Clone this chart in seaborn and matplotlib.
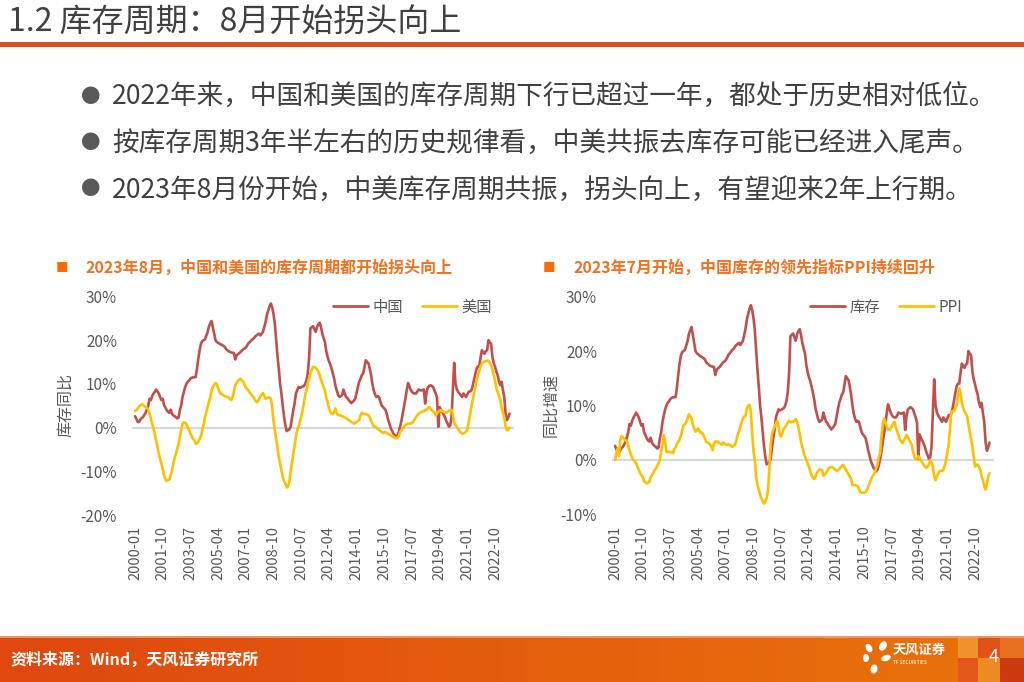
import numpy as np
import pandas as pd
import matplotlib
matplotlib.use("Agg")
import matplotlib.pyplot as plt
import matplotlib.colors as mcolors
from matplotlib.patches import Rectangle, Ellipse
from matplotlib.lines import Line2D
from matplotlib.ticker import FuncFormatter, FixedLocator
import seaborn as sns

# ---------------- data ----------------
months = pd.date_range("2000-01-01", periods=285, freq="MS")

china_inv = [
    2.6, 2.0, 1.3, 1.3, 1.8, 2.2, 2.4, 2.9, 3.4, 4.2,
    5.1, 6.6, 6.3, 7.2, 7.8, 8.2, 8.7, 8.3, 7.8, 7.0,
    6.3, 6.6, 5.1, 4.6, 4.0, 3.6, 3.4, 4.1, 3.2, 2.8,
    2.6, 2.4, 2.1, 2.3, 4.0, 5.1, 7.0, 8.2, 9.3, 10.0,
    10.5, 10.8, 11.2, 11.4, 11.5, 11.5, 11.6, 13.5, 15.8, 17.8,
    19.2, 19.8, 20.0, 20.2, 21.0, 21.8, 23.1, 23.8, 24.4, 23.0,
    21.5, 20.0, 19.6, 19.4, 19.2, 19.0, 18.9, 18.7, 18.5, 18.0,
    17.7, 17.5, 17.3, 17.2, 17.1, 17.1, 15.6, 16.5, 16.8, 17.0,
    17.3, 17.6, 17.9, 18.1, 18.3, 18.8, 19.3, 19.6, 19.9, 20.2,
    20.4, 20.8, 21.1, 21.3, 21.5, 21.1, 21.5, 21.9, 23.0, 24.2,
    25.8, 26.8, 27.8, 28.4, 27.5, 26.0, 23.8, 20.0, 16.5, 13.5,
    10.0, 7.8, 5.0, 2.5, 0.5, -0.8, -0.6, -0.4, 0.2, 2.2,
    4.0, 5.5, 7.8, 8.6, 9.3, 9.1, 9.2, 9.4, 9.5, 10.0,
    10.8, 12.5, 16.0, 22.7, 23.0, 23.2, 22.5, 21.9, 23.0, 23.6,
    24.0, 23.0, 21.5, 20.5, 19.6, 17.5, 16.2, 15.2, 14.5, 13.5,
    12.4, 11.2, 9.5, 8.5, 7.5, 7.0, 7.2, 7.4, 8.7, 7.8,
    7.0, 6.8, 6.3, 6.0, 5.6, 5.9, 6.2, 6.6, 8.0, 9.3,
    10.5, 11.2, 12.0, 12.4, 13.8, 15.4, 15.0, 14.7, 13.5, 12.0,
    10.0, 8.5, 7.6, 7.0, 7.2, 7.0, 6.0, 5.1, 4.7, 4.4,
    4.0, 3.0, 1.7, 0.8, -0.2, -0.8, -1.4, -1.8, -2.1, -1.8,
    -1.0, 0.2, 1.5, 3.2, 5.0, 6.6, 8.5, 10.2, 9.5, 8.7,
    8.2, 7.9, 7.8, 7.8, 8.2, 8.7, 8.6, 8.5, 8.6, 8.7,
    5.5, 8.0, 9.2, 9.5, 9.7, 9.5, 9.3, 8.5, 7.8, 6.8,
    0.2, 4.7, 4.0, 3.6, 3.0, 2.4, 1.5, 0.9, 0.2, 0.5,
    2.4, 8.5, 14.8, 10.1, 8.8, 8.2, 7.8, 7.4, 7.0, 7.8,
    7.4, 7.0, 7.6, 8.2, 8.3, 8.5, 9.5, 10.8, 12.0, 13.5,
    14.0, 14.0, 16.0, 17.7, 17.2, 16.9, 17.5, 17.7, 20.0, 19.5,
    19.2, 16.2, 14.8, 13.9, 12.8, 12.0, 10.5, 9.7, 10.5, 8.5,
    7.0, 3.2, 1.7, 2.3, 3.2,
]

us_inv = [
    3.8, 4.0, 4.4, 4.8, 5.1, 5.3, 5.2, 4.9, 4.7, 4.6,
    4.0, 3.2, 2.0, 0.9, -0.2, -1.4, -3.0, -4.4, -6.0, -7.1,
    -8.3, -9.4, -11.0, -11.8, -12.2, -12.0, -11.9, -10.9, -10.0, -8.2,
    -7.0, -6.0, -4.8, -3.7, -2.0, -0.5, 0.9, 1.2, 1.1, 0.8,
    0.0, -0.6, -1.4, -2.0, -2.6, -2.9, -3.7, -3.6, -3.3, -2.6,
    -2.0, -0.5, 0.6, 2.4, 3.5, 4.7, 6.0, 7.0, 8.5, 9.3,
    9.8, 10.2, 9.9, 9.0, 8.2, 7.8, 7.6, 7.4, 7.2, 7.1,
    7.0, 6.9, 6.5, 6.3, 7.0, 8.2, 9.7, 10.2, 10.7, 11.0,
    11.2, 10.8, 10.5, 9.8, 9.2, 8.8, 8.5, 8.0, 7.6, 7.2,
    6.9, 6.3, 5.9, 5.9, 6.4, 7.2, 7.6, 7.9, 7.3, 6.6,
    6.8, 6.9, 6.9, 6.6, 4.5, 1.5, -0.6, -2.5, -4.5, -6.7,
    -8.2, -9.8, -11.3, -12.2, -12.8, -13.7, -13.5, -12.4, -10.0, -8.0,
    -6.0, -4.0, -2.1, -0.5, 0.2, 1.4, 2.4, 4.0, 5.5, 7.5,
    8.5, 10.1, 11.3, 12.4, 13.2, 13.9, 13.8, 13.7, 13.3, 12.8,
    12.0, 11.0, 10.1, 9.3, 8.5, 6.8, 5.9, 4.5, 3.6, 3.2,
    3.1, 3.6, 4.4, 3.1, 3.0, 2.8, 2.8, 2.6, 2.5, 2.4,
    2.1, 2.0, 1.7, 1.5, 1.3, 1.1, 0.9, 1.1, 1.3, 1.5,
    1.7, 2.8, 3.4, 3.2, 3.1, 3.1, 3.0, 2.8, 2.4, 1.5,
    0.9, 0.3, 0.2, 0.0, -0.3, -0.5, -0.8, -1.0, -1.2, -1.1,
    -1.0, -1.3, -1.5, -1.6, -1.8, -2.0, -2.1, -2.3, -2.5, -2.3,
    -2.0, -1.0, -0.6, -0.2, 0.2, 0.5, 0.8, 0.9, 0.9, 0.9,
    1.1, 1.3, 1.8, 2.4, 2.8, 3.2, 3.4, 3.6, 3.7, 3.8,
    4.0, 4.1, 4.4, 4.7, 4.4, 4.0, 3.7, 3.4, 2.8, 3.2,
    3.6, 3.9, 4.0, 3.8, 3.6, 3.5, 3.4, 3.6, 3.8, 4.0,
    4.1, 3.1, 1.3, 0.6, 0.2, -0.3, -0.8, -1.1, -1.4, -1.3,
    -1.2, -0.9, -0.6, 1.3, 3.0, 4.7, 6.2, 7.8, 9.3, 10.8,
    12.0, 13.1, 14.0, 14.7, 15.0, 15.1, 15.2, 15.3, 15.3, 14.8,
    14.2, 13.3, 12.0, 10.8, 9.0, 8.2, 7.2, 6.3, 4.4, 3.4,
    2.4, 0.2, -0.6, -0.5, 0.0,
]

ppi = [
    0.0, 1.2, 2.1, 0.7, 3.7, 4.4, 4.1, 3.8, 3.6, 3.4,
    2.6, 1.8, 1.0, 0.3, 0.0, -0.3, -0.6, -1.2, -1.8, -2.4,
    -2.8, -3.1, -3.9, -4.1, -4.3, -4.2, -4.0, -3.1, -2.8, -2.4,
    -1.8, -1.6, -1.1, -0.6, 0.0, 1.5, 2.8, 4.6, 3.4, 1.5,
    1.5, 1.5, 1.4, 1.5, 1.3, 2.0, 2.4, 3.0, 3.4, 3.8,
    4.5, 5.5, 6.4, 6.6, 6.9, 7.6, 8.4, 8.0, 7.6, 6.5,
    5.8, 5.2, 5.4, 5.8, 5.3, 5.0, 5.0, 4.6, 4.0, 3.4,
    3.2, 3.1, 2.9, 2.5, 1.8, 3.0, 3.4, 3.4, 3.4, 3.1,
    3.0, 2.8, 3.2, 3.0, 2.8, 2.8, 2.9, 2.7, 2.6, 2.4,
    2.6, 2.8, 3.6, 4.6, 5.3, 6.1, 6.9, 7.6, 8.0, 8.1,
    9.5, 10.0, 10.1, 8.9, 4.9, 1.5, 0.0, -3.1, -4.5, -5.5,
    -6.3, -7.0, -7.6, -8.0, -7.5, -7.0, -5.5, -1.8, 2.8, 4.9,
    5.5, 6.1, 6.8, 7.2, 6.1, 4.6, 4.3, 5.0, 5.8, 6.1,
    6.4, 6.9, 7.2, 6.9, 7.0, 7.0, 7.2, 7.5, 7.0, 6.0,
    4.9, 3.4, 2.4, 1.4, 0.6, 0.1, -0.6, -1.2, -2.0, -2.8,
    -3.2, -3.5, -3.0, -2.4, -2.0, -1.7, -1.8, -1.8, -2.9, -2.7,
    -2.4, -2.0, -1.5, -1.4, -1.3, -1.4, -1.5, -1.8, -2.0, -1.9,
    -1.7, -1.4, -1.1, -0.9, -1.3, -1.8, -2.2, -2.6, -3.0, -3.4,
    -4.6, -4.6, -4.6, -4.7, -4.8, -5.4, -5.9, -6.0, -6.0, -6.0,
    -5.9, -5.5, -4.9, -4.3, -3.6, -3.1, -2.7, -2.3, -1.5, -0.9,
    0.5, 1.2, 4.3, 6.7, 7.6, 7.0, 6.1, 5.6, 5.5, 5.8,
    6.2, 6.8, 7.0, 6.0, 5.2, 4.5, 3.7, 3.4, 3.1, 3.6,
    4.0, 4.6, 4.2, 3.7, 3.2, 2.8, 1.5, 0.6, 0.1, 0.3,
    0.7, 0.3, 0.0, -0.5, -0.9, -1.2, -1.5, -1.2, -0.9, 0.0,
    -0.4, -1.2, -3.0, -3.7, -3.0, -2.5, -2.1, -2.0, -2.0, -1.8,
    -1.0, 0.0, 1.5, 2.8, 5.5, 8.9, 9.0, 8.9, 9.5, 10.1,
    11.5, 13.1, 12.2, 10.5, 9.5, 8.9, 8.5, 8.0, 6.5, 5.2,
    3.8, 2.4, 0.5, -1.2, -0.9, -0.8, -1.3, -1.8, -3.0, -3.7,
    -4.9, -5.4, -4.4, -3.0, -2.4,
]

tick_labels = ["2000-01", "2001-10", "2003-07", "2005-04", "2007-01", "2008-10",
               "2010-07", "2012-04", "2014-01", "2015-10", "2017-07", "2019-04",
               "2021-01", "2022-10"]
left_series = ["中国", "美国"]
right_series = ["库存", "PPI"]
left_yticks = [-20, -10, 0, 10, 20, 30]
right_yticks = [-10, 0, 10, 20, 30]

title = "1.2 库存周期：8月开始拐头向上"
bullets = [
    "2022年来，中国和美国的库存周期下行已超过一年，都处于历史相对低位。",
    "按库存周期3年半左右的历史规律看，中美共振去库存可能已经进入尾声。",
    "2023年8月份开始，中美库存周期共振，拐头向上，有望迎来2年上行期。",
]
left_sub = "2023年8月，中国和美国的库存周期都开始拐头向上"
right_sub = "2023年7月开始，中国库存的领先指标PPI持续回升"
source = "资料来源：Wind，天风证券研究所"

# ---------------- style ----------------
sns.set_theme(style="white")
plt.rcParams['font.family'] = ['Noto Sans CJK SC', 'DejaVu Sans']
plt.rcParams['axes.unicode_minus'] = False

RED = "#C0504D"
YEL = "#FFC000"
GRAY_TXT = "#595959"
ORANGE_TXT = "#F4701E"

W, H = 1024, 682
fig = plt.figure(figsize=(W / 100, H / 100), dpi=100)
fig.patch.set_facecolor("white")


def fx(px):
    return px / W


def fy(py):
    return 1 - py / H


# title + rule
fig.text(fx(8), fy(22), title, fontsize=23, color="#404040", va="center", ha="left")
fig.add_artist(Rectangle((0, fy(46.5)), 1, 5 / H, transform=fig.transFigure,
                         facecolor="#D9511C", edgecolor="none"))

# bullets
for yb, txt in zip([97, 143, 190], bullets):
    fig.text(fx(91), fy(yb), "●", fontsize=14, color=GRAY_TXT, va="center", ha="center")
    fig.text(fx(112), fy(yb), txt, fontsize=19.2, color="#404040", va="center", ha="left")

# subtitles
for sqx, tx, txt in [(62, 86, left_sub), (549, 574, right_sub)]:
    fig.text(fx(sqx), fy(268), "■", fontsize=9, color="#FF6A00", va="center", ha="center")
    fig.text(fx(tx), fy(268), txt, fontsize=11.5, color=ORANGE_TXT, weight="bold",
             va="center", ha="left")

idx = np.arange(len(months))
tick_pos = list(months.get_indexer(pd.to_datetime(tick_labels)))

df_left = pd.DataFrame({
    "idx": np.concatenate([idx, idx]),
    "value": np.concatenate([china_inv, us_inv]),
    "series": [left_series[0]] * len(idx) + [left_series[1]] * len(idx),
})
df_right = pd.DataFrame({
    "idx": np.concatenate([idx, idx]),
    "value": np.concatenate([china_inv, ppi]),
    "series": [right_series[0]] * len(idx) + [right_series[1]] * len(idx),
})


def style_axes(ax, df, names, yticks, ylim, ylabel, ylabel_x, legend_right):
    ax.axhline(0, color="#D9D9D9", lw=1.5, zorder=0)
    sns.lineplot(data=df, x="idx", y="value", hue="series", hue_order=names,
                 palette={names[0]: RED, names[1]: YEL}, linewidth=1.9,
                 ax=ax, legend=False, zorder=3)
    ax.set_xlim(-2, 287)
    ax.set_ylim(*ylim)
    ax.xaxis.set_major_locator(FixedLocator(tick_pos))
    ax.set_xticklabels(tick_labels)
    ax.yaxis.set_major_locator(FixedLocator(yticks))
    ax.yaxis.set_major_formatter(FuncFormatter(lambda v, p: f"{v:.0f}%"))
    ax.tick_params(axis="x", labelrotation=90, length=0, pad=8, labelsize=10.5,
                   colors=GRAY_TXT)
    ax.tick_params(axis="y", length=0, pad=11, labelsize=11, colors=GRAY_TXT)
    ax.set_xlabel("")
    ax.set_ylabel("")
    for s in ax.spines.values():
        s.set_visible(False)
    ax.grid(False)
    ax.set_facecolor("none")
    fig.text(fx(ylabel_x), fy(405), ylabel, rotation=90, fontsize=11.5,
             color=GRAY_TXT, va="center", ha="center")
    handles = [Line2D([0], [0], color=RED, lw=2), Line2D([0], [0], color=YEL, lw=2)]
    ax.legend(handles, names, loc="center right", ncol=2, frameon=False,
              bbox_to_anchor=(fx(legend_right), fy(307)), bbox_transform=fig.transFigure,
              fontsize=11, labelcolor=GRAY_TXT, handlelength=2.3, handletextpad=0.3,
              columnspacing=1.2, borderpad=0, borderaxespad=0)


axL = fig.add_axes([fx(132.4), fy(515), fx(513.5) - fx(132.4), (515 - 296.5) / H])
style_axes(axL, df_left, left_series, left_yticks, (-20, 30), "库存同比", 66, 492)

axR = fig.add_axes([fx(612.4), fy(514.5), fx(993.5) - fx(612.4), (514.5 - 296.5) / H])
style_axes(axR, df_right, right_series, right_yticks, (-10, 30), "同比增速", 551, 962)

# ---------------- footer ----------------
fax = fig.add_axes([0, 0, 1, 46 / H])
fax.set_axis_off()
c1 = np.array(mcolors.to_rgb("#DF470F"))
c2 = np.array(mcolors.to_rgb("#E9740B"))
w = np.linspace(0, 1, 512)[None, :, None]
grad = c1 * (1 - w) + c2 * w
fax.imshow(grad, aspect="auto", extent=[0, W, 0, 46], origin="lower", zorder=0)
fax.set_xlim(0, W)
fax.set_ylim(0, 46)
blocks = [
    (958, 24, 20, 22, "#F2922A"), (958, 0, 20, 24, "#E3581A"),
    (978, 24, 22, 22, "#E0521A"), (978, 0, 22, 24, "#EE8A22"),
    (1000, 24, 24, 22, "#E9701E"), (1000, 0, 24, 24, "#CC3A12"),
]
for bx, by, bw, bh, bc in blocks:
    fax.add_patch(Rectangle((bx, by), bw, bh, facecolor=bc, edgecolor="none", zorder=1))
fig.add_artist(Line2D([0, 1], [fy(636.5), fy(636.5)], transform=fig.transFigure,
                      color="#F3A070", lw=1.2))
# logo petals
for (ex, ey, ew, eh, ang) in [(869, 34, 6, 9, 30), (883, 36, 7, 10, -30),
                               (866, 24, 6, 8, 0), (886, 24, 10, 6, 20),
                               (874, 13, 7, 9, -10)]:
    fax.add_patch(Ellipse((ex, ey), ew, eh, angle=ang, facecolor="white",
                          edgecolor="none", zorder=2))
fig.text(fx(893), fy(650), "天风证券", fontsize=9.5, color="white", weight="bold",
         va="center", ha="left")
fig.text(fx(893), fy(662), "TF SECURITIES", fontsize=3.5, color="white",
         va="center", ha="left")
fig.text(fx(994), fy(657), "4", fontsize=13, color="white", va="center", ha="center")
fig.text(fx(10), fy(660), source, fontsize=11.5, color="white", weight="bold",
         va="center", ha="left")

fig.savefig("out.png", dpi=100, facecolor="white")
